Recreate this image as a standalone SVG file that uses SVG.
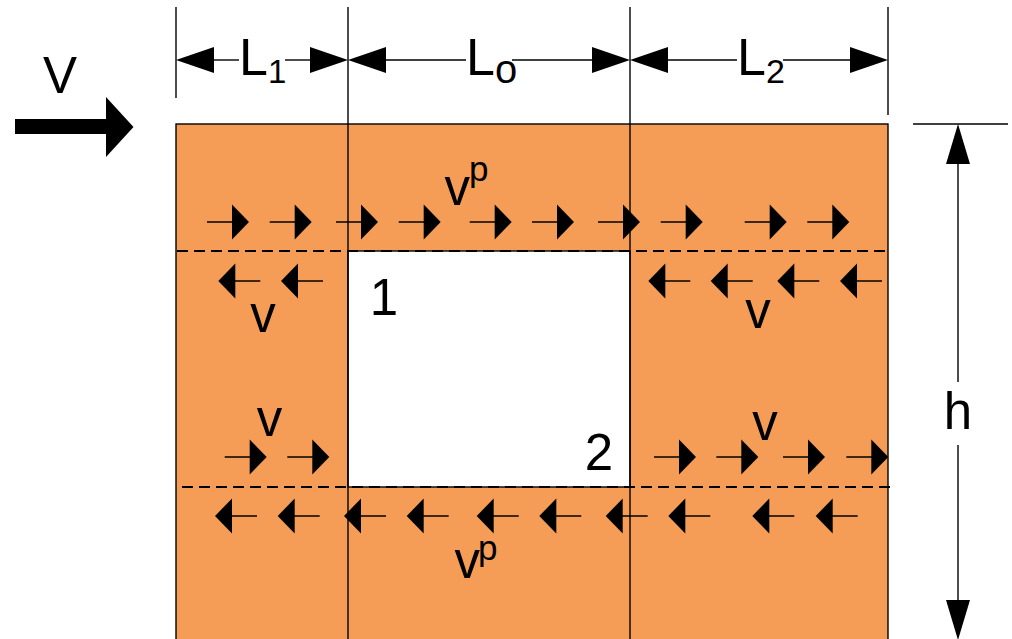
<svg xmlns="http://www.w3.org/2000/svg" xmlns:xlink="http://www.w3.org/1999/xlink" width="1012" height="639" viewBox="0 0 1012 639">
<style>
.t{font-family:"Liberation Sans",Arial,sans-serif;fill:#000}
.big{font-size:51px}
.ln{stroke:#000;stroke-width:1.4;fill:none}
.dash{stroke:#000;stroke-width:2;stroke-dasharray:11 6;fill:none}
</style>
<defs>
<g id="ar"><line x1="-42" y1="0" x2="-16" y2="0" stroke="#000" stroke-width="1.5"/><polygon points="-17,-17.5 0,0 -17,17.5" fill="#000"/></g>
<g id="al"><line x1="16" y1="0" x2="42" y2="0" stroke="#000" stroke-width="1.5"/><polygon points="17,-17.5 0,0 17,17.5" fill="#000"/></g>
</defs>
<rect width="1012" height="639" fill="#fff"/>
<g id="body">
<rect x="176" y="124" width="712" height="520" fill="#F59D56" stroke="#000" stroke-width="1.4"/>
<rect x="348" y="251" width="282" height="236" fill="#fff" stroke="#000" stroke-width="1.4"/>
<line class="ln" x1="348" y1="7" x2="348" y2="639"/>
<line class="ln" x1="630" y1="7" x2="630" y2="639"/>
<line class="ln" x1="176" y1="7" x2="176" y2="98"/>
<line class="ln" x1="888" y1="7" x2="888" y2="115"/>
<line class="dash" x1="177" y1="251" x2="886" y2="251"/>
<line class="dash" x1="182" y1="487" x2="892" y2="487"/>
</g>
<g id="dimensions">
<line class="ln" x1="214" y1="60" x2="239" y2="60"/>
<line class="ln" x1="285" y1="60" x2="310" y2="60"/>
<polygon points="176,60 214,47 214,73" fill="#000"/>
<polygon points="348,60 310,47 310,73" fill="#000"/>
<line class="ln" x1="386" y1="60" x2="466" y2="60"/>
<line class="ln" x1="512" y1="60" x2="593" y2="60"/>
<polygon points="348,60 386,47 386,73" fill="#000"/>
<polygon points="630,60 592,47 592,73" fill="#000"/>
<line class="ln" x1="668" y1="60" x2="737" y2="60"/>
<line class="ln" x1="783" y1="60" x2="851" y2="60"/>
<polygon points="630,60 668,47 668,73" fill="#000"/>
<polygon points="888,60 850,47 850,73" fill="#000"/>
<text class="t" font-size="52px" x="239" y="75">L<tspan font-size="33px" dy="8">1</tspan></text>
<text class="t" font-size="52px" x="466" y="75">L<tspan font-size="40px" dy="8">o</tspan></text>
<text class="t" font-size="52px" x="737" y="75">L<tspan font-size="34px" dy="8">2</tspan></text>
<line class="ln" x1="913" y1="124" x2="1008" y2="124"/>
<line class="ln" x1="958" y1="160" x2="958" y2="382"/>
<line class="ln" x1="958" y1="445" x2="958" y2="605"/>
<polygon points="958,124 946,164 970,164" fill="#000"/>
<polygon points="958,640 946,600 970,600" fill="#000"/>
<text class="t big" x="958" y="429" text-anchor="middle">h</text>
</g>
<g id="inflow">
<rect x="15" y="119" width="92" height="15" fill="#000"/>
<polygon points="106,97 133.5,127 106,157" fill="#000"/>
<text class="t big" x="60" y="93" text-anchor="middle">V</text>
</g>
<g id="connectors">
<use xlink:href="#ar" x="249" y="222"/>
<use xlink:href="#ar" x="311.7" y="222"/>
<use xlink:href="#ar" x="378" y="222"/>
<use xlink:href="#ar" x="440.7" y="222"/>
<use xlink:href="#ar" x="511.7" y="222"/>
<use xlink:href="#ar" x="574" y="222"/>
<use xlink:href="#ar" x="640" y="222"/>
<use xlink:href="#ar" x="702.7" y="222"/>
<use xlink:href="#ar" x="786.7" y="222"/>
<use xlink:href="#ar" x="849.3" y="222"/>
<use xlink:href="#al" x="218.3" y="281"/>
<use xlink:href="#al" x="281" y="281"/>
<use xlink:href="#al" x="648.3" y="281"/>
<use xlink:href="#al" x="710.7" y="281"/>
<use xlink:href="#al" x="777.3" y="281"/>
<use xlink:href="#al" x="840" y="281"/>
<use xlink:href="#ar" x="266.7" y="457"/>
<use xlink:href="#ar" x="329.3" y="457"/>
<use xlink:href="#ar" x="696" y="457"/>
<use xlink:href="#ar" x="758.3" y="457"/>
<use xlink:href="#ar" x="825" y="457"/>
<use xlink:href="#ar" x="888.3" y="457"/>
<use xlink:href="#al" x="215" y="516"/>
<use xlink:href="#al" x="277.7" y="516"/>
<use xlink:href="#al" x="344" y="516"/>
<use xlink:href="#al" x="406.7" y="516"/>
<use xlink:href="#al" x="476.7" y="516"/>
<use xlink:href="#al" x="539.3" y="516"/>
<use xlink:href="#al" x="605.7" y="516"/>
<use xlink:href="#al" x="668.3" y="516"/>
<use xlink:href="#al" x="752.3" y="516"/>
<use xlink:href="#al" x="815.7" y="516"/>
</g>
<g id="labels">
<text class="t big" x="444.5" y="205">v<tspan font-size="35px" dx="-1" dy="-24">p</tspan></text>
<text class="t big" x="263" y="332" text-anchor="middle">v</text>
<text class="t big" x="758" y="328" text-anchor="middle">v</text>
<text class="t big" x="269.5" y="435.5" text-anchor="middle">v</text>
<text class="t big" x="765" y="440" text-anchor="middle">v</text>
<text class="t big" x="454.5" y="578">v<tspan font-size="35px" dx="-2" dy="-18">p</tspan></text>
<text class="t big" x="384" y="315" text-anchor="middle">1</text>
<text class="t big" x="599" y="470" text-anchor="middle">2</text>
</g>
</svg>
